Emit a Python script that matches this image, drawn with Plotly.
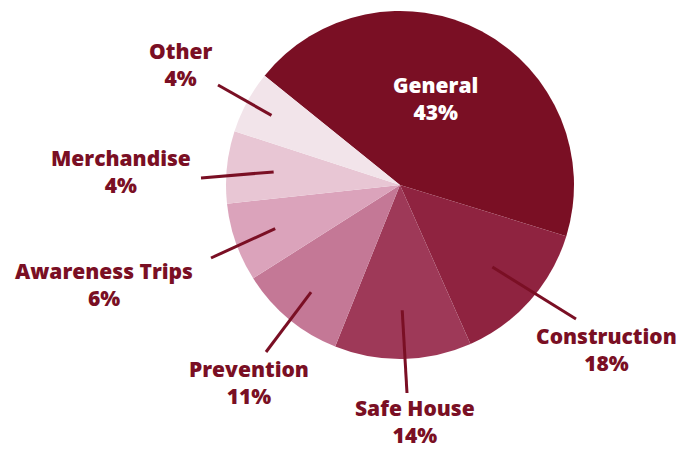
import math
import plotly.graph_objects as go

# ---- data ----
categories = ["General", "Construction", "Safe House", "Prevention",
              "Awareness Trips", "Merchandise", "Other"]
slice_values = [43.9, 13.6, 12.7, 9.9, 7.3, 6.7, 5.8]   # slice sizes
shown_pct = ["43%", "18%", "14%", "11%", "6%", "4%", "4%"]  # percentages printed on the chart
colors = ["#7A0F24", "#8F2340", "#9E3958", "#C47896", "#DBA3BB", "#E8C6D4", "#F2E4EA"]

W, H = 684, 449
CX, CY, R = 400, 185, 174
ROT = -51.1  # start of first slice, degrees clockwise from 12 o'clock
FONT = "Open Sans"
FSIZE = 21

# label anchor positions (pixels, centre of the two-line label block)
label_pos = {
    "General": (435, 98),
    "Construction": (606, 349),
    "Safe House": (415, 421),
    "Prevention": (249, 382),
    "Awareness Trips": (104, 284),
    "Merchandise": (121, 171),
    "Other": (180, 64),
}
line_outer = {
    "Construction": (576, 319),
    "Safe House": (407, 393),
    "Prevention": (266, 352),
    "Awareness Trips": (211, 258),
    "Merchandise": (201, 178),
    "Other": (218, 85),
}
inner_frac = {
    "Construction": 0.71, "Safe House": 0.72, "Prevention": 0.80,
    "Awareness Trips": 0.76, "Merchandise": 0.73, "Other": 0.84,
}

def px(x):
    return x / W

def py(y):
    return 1 - y / H

fig = go.Figure(go.Pie(
    labels=categories,
    values=slice_values,
    sort=False,
    direction="clockwise",
    rotation=ROT,
    marker=dict(colors=colors, line=dict(width=0)),
    textinfo="none",
    hoverinfo="label",
    showlegend=False,
    domain=dict(x=[px(CX - R), px(CX + R)], y=[py(CY + R), py(CY - R)]),
))

total = sum(slice_values)
acc = 0.0
shapes = []
annotations = []
for cat, v, pct in zip(categories, slice_values, shown_pct):
    mid = ROT + (acc + v / 2) / total * 360.0
    acc += v
    a = math.radians(mid)
    lx, ly = label_pos[cat]
    col = "#FFFFFF" if cat == "General" else "#7A0F24"
    annotations.append(dict(
        x=px(lx), y=py(ly), xref="paper", yref="paper",
        text=f"{cat}<br>{pct}", showarrow=False, align="center",
        xanchor="center", yanchor="middle",
        font=dict(family=FONT, size=FSIZE, weight=800, color=col),
    ))
    if cat in line_outer:
        f = inner_frac[cat]
        ix = CX + R * f * math.sin(a)
        iy = CY - R * f * math.cos(a)
        ox, oy = line_outer[cat]
        shapes.append(dict(type="line", xref="paper", yref="paper",
                           x0=px(ix), y0=py(iy), x1=px(ox), y1=py(oy),
                           line=dict(color="#7A0F24", width=3)))

fig.update_layout(
    width=W, height=H,
    margin=dict(l=0, r=0, t=0, b=0),
    paper_bgcolor="#FFFFFF",
    plot_bgcolor="#FFFFFF",
    shapes=shapes,
    annotations=annotations,
)

fig.write_html("out.html", config={"displayModeBar": False},
               post_script="document.body.style.margin='0';document.body.style.overflow='hidden';")
